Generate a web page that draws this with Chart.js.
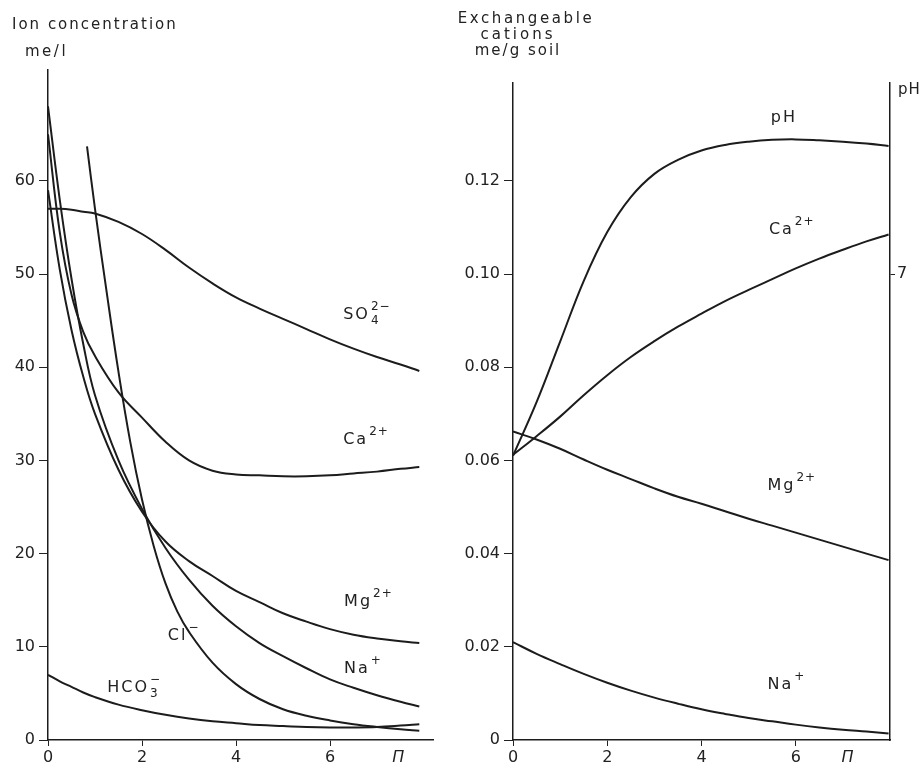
<!DOCTYPE html>
<html>
<head>
<meta charset="utf-8">
<script src="https://cdn.jsdelivr.net/npm/chart.js@4.4.1/dist/chart.umd.min.js"></script>
<style>
  body { margin: 0; background: #fff; }
  #wrap { position: relative; width: 924px; height: 768px; }
  #left { position: absolute; left: 0; top: 0; }
  #right { position: absolute; left: 450px; top: 0; }
</style>
</head>
<body>
<div id="wrap">
  <canvas id="left" width="450" height="768"></canvas>
  <canvas id="right" width="474" height="768"></canvas>
</div>
<script>
// left panel: ion concentration in the effluent, me/l
const leftX = [0, 0.25, 0.5, 0.75, 1, 1.5, 2, 2.5, 3, 3.5, 4, 4.5, 5, 5.5, 6, 6.5, 7, 7.5, 7.9];
const so4 = [57, 57, 56.9, 56.7, 56.5, 55.6, 54.3, 52.6, 50.7, 49, 47.5, 46.3, 45.2, 44.1, 43, 42, 41.1, 40.3, 39.6];
const caL = [65, 54.5, 47.8, 43.8, 41.2, 37.3, 34.6, 32, 30, 28.9, 28.5, 28.4, 28.3, 28.3, 28.4, 28.6, 28.8, 29.1, 29.3];
const mgL = [59, 50.5, 44, 39, 35, 29, 24.5, 21.3, 19.2, 17.6, 16, 14.8, 13.6, 12.7, 11.9, 11.3, 10.9, 10.6, 10.4];
const naL = [68, 58, 49.5, 42.5, 37, 30, 24.8, 20.6, 17.2, 14.4, 12.2, 10.4, 9, 7.7, 6.5, 5.6, 4.8, 4.1, 3.6];
const hco3 = [7, 6.3, 5.7, 5.1, 4.6, 3.8, 3.2, 2.7, 2.3, 2.0, 1.8, 1.6, 1.5, 1.4, 1.35, 1.35, 1.4, 1.55, 1.7];
const clX = [0.83, 1, 1.25, 1.5, 1.75, 2, 2.25, 2.5, 2.75, 3, 3.5, 4, 4.5, 5, 5.5, 6, 6.5, 7, 7.5, 7.9];
const cl = [63.7, 57, 48, 39.5, 32, 25.8, 20.8, 16.8, 13.8, 11.6, 8.3, 6, 4.4, 3.3, 2.6, 2.1, 1.7, 1.4, 1.15, 1.0];
const leftYTicks = [0, 10, 20, 30, 40, 50, 60];

// right panel: exchangeable cations, me/g soil, and pH
const rightX = [0, 0.5, 1, 1.5, 2, 2.5, 3, 3.5, 4, 4.5, 5, 5.5, 6, 6.5, 7, 7.5, 7.97];
const phVals = [6.22, 6.45, 6.71, 6.97, 7.18, 7.33, 7.43, 7.49, 7.53, 7.554, 7.568, 7.576, 7.578, 7.574, 7.568, 7.56, 7.55];
const caR = [0.0612, 0.0652, 0.0694, 0.0740, 0.0783, 0.0822, 0.0856, 0.0887, 0.0915, 0.0942, 0.0966, 0.0989, 0.1012, 0.1033, 0.1052, 0.1070, 0.1085];
const mgR = [0.0662, 0.0645, 0.0625, 0.0602, 0.058, 0.056, 0.054, 0.0522, 0.0507, 0.0491, 0.0475, 0.046, 0.0445, 0.043, 0.0415, 0.04, 0.0386];
const naR = [0.021, 0.0185, 0.0163, 0.0142, 0.0123, 0.0106, 0.0091, 0.0078, 0.0066, 0.0056, 0.0047, 0.004, 0.0033, 0.0027, 0.0022, 0.0018, 0.0014];
const rightYTicks = [0, 0.02, 0.04, 0.06, 0.08, 0.10, 0.12];
const phTicks = [7];

const xTicks = [0, 2, 4, 6];
const INK = '#1c1c1c';
const FONT = '"DejaVu Sans", sans-serif';

function pts(xs, ys) {
  return xs.map((x, i) => ({ x: x, y: ys[i] }));
}

function curve(xs, ys, axis) {
  return {
    data: pts(xs, ys),
    yAxisID: axis || 'y',
    borderColor: INK,
    borderWidth: 2,
    pointRadius: 0,
    fill: false,
    tension: 0.4
  };
}

// draws the headings and the curve names (with super/subscripts)
const notes = {
  id: 'notes',
  afterDraw(chart, args, opts) {
    const ctx = chart.ctx;
    ctx.save();
    ctx.fillStyle = '#222';
    ctx.textBaseline = 'middle';
    (opts.titles || []).forEach(t => {
      ctx.font = '15px ' + FONT;
      ctx.letterSpacing = (t.spacing || 2) + 'px';
      ctx.textAlign = t.align || 'left';
      ctx.fillText(t.text, t.x, t.y);
    });
    ctx.textAlign = 'left';
    (opts.labels || []).forEach(l => {
      const px = chart.scales.x.getPixelForValue(l.x);
      const py = chart.scales[l.axis || 'y'].getPixelForValue(l.y);
      ctx.font = '16px ' + FONT;
      ctx.letterSpacing = '2px';
      ctx.fillText(l.base, px, py);
      const w = ctx.measureText(l.base).width;
      ctx.font = '12px ' + FONT;
      ctx.letterSpacing = '1px';
      if (l.sup) ctx.fillText(l.sup, px + w + 1, py - 8);
      if (l.sub) ctx.fillText(l.sub, px + w + 1, py + 6);
    });
    ctx.restore();
  }
};

function xScale(max, piAt) {
  return {
    type: 'linear',
    min: 0,
    max: max,
    afterBuildTicks: s => { s.ticks = xTicks.concat([piAt]).map(v => ({ value: v })); },
    afterFit: s => { s.height = 28; },
    ticks: {
      color: '#222',
      padding: 2,
      maxRotation: 0,
      autoSkip: false,
      font: c => (c.tick && c.tick.value > 7 ? { family: FONT, size: 16, style: 'italic' } : { family: FONT, size: 16 }),
      callback: v => (v > 7 ? 'Π' : String(v))
    },
    grid: {
      drawOnChartArea: false,
      tickLength: 6,
      tickColor: c => (c.tick && c.tick.value > 7 ? 'rgba(0,0,0,0)' : '#222')
    },
    border: { color: INK, width: 1.5 }
  };
}

function yScale(max, ticks, width, fmt) {
  return {
    type: 'linear',
    min: 0,
    max: max,
    afterBuildTicks: s => { s.ticks = ticks.map(v => ({ value: v })); },
    afterFit: s => { s.width = width; },
    ticks: { color: '#222', padding: 4, font: { family: FONT, size: 16 }, callback: fmt },
    grid: { drawOnChartArea: false, tickLength: 9, tickColor: '#222' },
    border: { color: INK, width: 1.5 }
  };
}

new Chart(document.getElementById('left'), {
  type: 'line',
  data: {
    datasets: [
      curve(leftX, so4), curve(leftX, caL), curve(leftX, mgL),
      curve(leftX, naL), curve(leftX, hco3), curve(clX, cl)
    ]
  },
  options: {
    responsive: false,
    animation: false,
    layout: { padding: { top: 70, right: 16.6, left: 0, bottom: 0 } },
    scales: {
      x: xScale(8.2, 7.45),
      y: yScale(71.9, leftYTicks, 48, v => String(v))
    },
    plugins: {
      legend: { display: false },
      tooltip: { enabled: false },
      notes: {
        titles: [
          { text: 'Ion concentration', x: 12, y: 25, spacing: 2 },
          { text: 'me/l', x: 25, y: 52, spacing: 2.5 }
        ],
        labels: [
          { x: 6.28, y: 45.6, base: 'SO', sup: '2−', sub: '4' },
          { x: 6.28, y: 32.2, base: 'Ca', sup: '2+' },
          { x: 6.3, y: 14.8, base: 'Mg', sup: '2+' },
          { x: 6.3, y: 7.6, base: 'Na', sup: '+' },
          { x: 2.55, y: 11.2, base: 'Cl', sup: '−' },
          { x: 1.26, y: 5.6, base: 'HCO', sup: '−', sub: '3' }
        ]
      }
    }
  },
  plugins: [notes]
});

const yMaxR = 0.141;
const phMin = 5;
new Chart(document.getElementById('right'), {
  type: 'line',
  data: {
    datasets: [
      curve(rightX, phVals, 'yPH'), curve(rightX, caR),
      curve(rightX, mgR), curve(rightX, naR)
    ]
  },
  options: {
    responsive: false,
    animation: false,
    layout: { padding: { top: 83, right: 0, left: 0, bottom: 0 } },
    scales: {
      x: xScale(8.0, 7.1),
      y: yScale(yMaxR, rightYTicks, 63, v => (v === 0 ? '0' : v.toFixed(2))),
      yPH: {
        type: 'linear',
        position: 'right',
        min: phMin,
        max: phMin + yMaxR * 20,
        afterBuildTicks: s => { s.ticks = phTicks.map(v => ({ value: v })); },
        afterFit: s => { s.width = 34; },
        ticks: { color: '#222', padding: 2, font: { family: FONT, size: 16 } },
        grid: { drawOnChartArea: false, tickLength: 5, tickColor: '#222' },
        border: { color: INK, width: 1.5 }
      }
    },
    plugins: {
      legend: { display: false },
      tooltip: { enabled: false },
      notes: {
        titles: [
          { text: 'Exchangeable', x: 76, y: 19, align: 'center', spacing: 2.6 },
          { text: 'cations', x: 68, y: 35, align: 'center', spacing: 3 },
          { text: 'me/g soil', x: 68, y: 51, align: 'center', spacing: 2 },
          { text: 'pH', x: 448, y: 90, spacing: 1 }
        ],
        labels: [
          { x: 5.47, y: 7.67, axis: 'yPH', base: 'pH' },
          { x: 5.43, y: 0.1095, base: 'Ca', sup: '2+' },
          { x: 5.4, y: 0.0545, base: 'Mg', sup: '2+' },
          { x: 5.4, y: 0.0118, base: 'Na', sup: '+' }
        ]
      }
    }
  },
  plugins: [notes]
});
</script>
</body>
</html>
